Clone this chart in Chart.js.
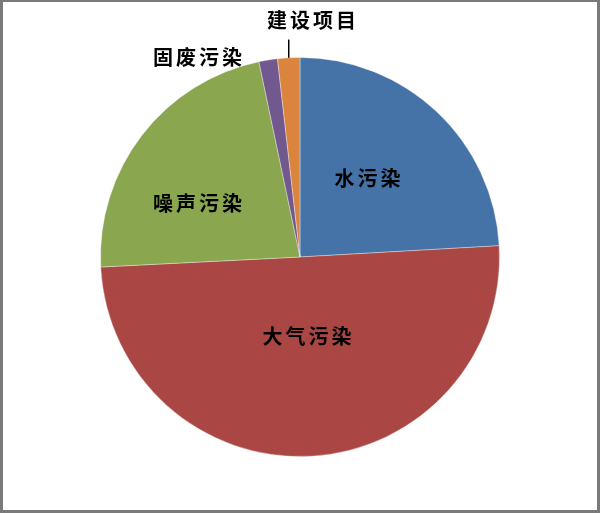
<!DOCTYPE html>
<html>
<head>
<meta charset="utf-8">
<script src="https://cdn.jsdelivr.net/npm/chart.js@4/dist/chart.umd.min.js"></script>
<style>
  html, body { margin: 0; padding: 0; background: #fff; }
  #wrap { width: 600px; height: 513px; position: relative; }
</style>
</head>
<body>
<div id="wrap"><canvas id="c" width="600" height="513"></canvas></div>
<script>
// ---- data ----
const categories = ['水污染', '大气污染', '噪声污染', '固废污染', '建设项目'];
const shares = [24.1, 50.1, 22.5, 1.5, 1.8];
const sliceColors = ['#4573A7', '#AA4744', '#8AA64F', '#71598F', '#DB843D'];

// ---- label placement (fraction of radius, angle shift in degrees, outside leader) ----
const labelPlacement = [
  { frac: 0.52, shift: -2.7 },
  { frac: 0.40, shift: -2.0 },
  { frac: 0.58, shift: -10.0 },
  { frac: 1.125, shift: -18.0 },
  { frac: 1.185, shift: 6.0, leader: [1.0, 1.09] }
];

const labelPlugin = {
  id: 'pieLabels',
  afterDatasetsDraw(chart) {
    const ctx = chart.ctx;
    const meta = chart.getDatasetMeta(0);
    ctx.save();
    ctx.font = 'bold 20px "Noto Sans CJK SC", "Noto Sans CJK JP", sans-serif';
    ctx.fillStyle = '#000';
    ctx.textAlign = 'center';
    ctx.textBaseline = 'middle';
    if ('letterSpacing' in ctx) ctx.letterSpacing = '3px';
    meta.data.forEach((arc, i) => {
      const p = arc.getProps(['x', 'y', 'startAngle', 'endAngle', 'outerRadius'], true);
      const mid = (p.startAngle + p.endAngle) / 2;
      const cfg = labelPlacement[i];
      const a = mid + cfg.shift * Math.PI / 180;
      const r = p.outerRadius * cfg.frac;
      const lx = p.x + Math.cos(a) * r;
      const ly = p.y + Math.sin(a) * r;
      ctx.fillText(categories[i], lx + 1.5, ly);
      if (cfg.leader) {
        const sx = p.x + Math.cos(mid) * p.outerRadius * cfg.leader[0];
        const sy = p.y + Math.sin(mid) * p.outerRadius * cfg.leader[0];
        const ey = p.y - p.outerRadius * cfg.leader[1];
        ctx.beginPath();
        ctx.strokeStyle = '#000';
        ctx.lineWidth = 1.5;
        ctx.moveTo(sx, sy);
        ctx.lineTo(sx, ey);
        ctx.stroke();
      }
    });
    ctx.restore();
  },
  afterDraw(chart) {
    const ctx = chart.ctx;
    const w = chart.width, h = chart.height;
    ctx.save();
    ctx.fillStyle = '#7a7a7a';
    ctx.fillRect(0, 0, 3, h);
    ctx.fillRect(0, 0, w, 2);
    ctx.fillRect(w - 3, 0, 3, h);
    ctx.fillRect(0, h - 3, w, 3);
    ctx.restore();
  }
};

new Chart(document.getElementById('c'), {
  type: 'pie',
  data: {
    labels: categories,
    datasets: [{
      data: shares,
      backgroundColor: sliceColors,
      borderColor: 'rgba(255,255,255,0.35)',
      borderWidth: 1
    }]
  },
  options: {
    responsive: false,
    animation: false,
    devicePixelRatio: 1,
    layout: { padding: { top: 57, bottom: 56, left: 0, right: 0 } },
    plugins: {
      legend: { display: false },
      tooltip: { enabled: false },
      title: { display: false }
    }
  },
  plugins: [labelPlugin]
});
</script>
</body>
</html>
